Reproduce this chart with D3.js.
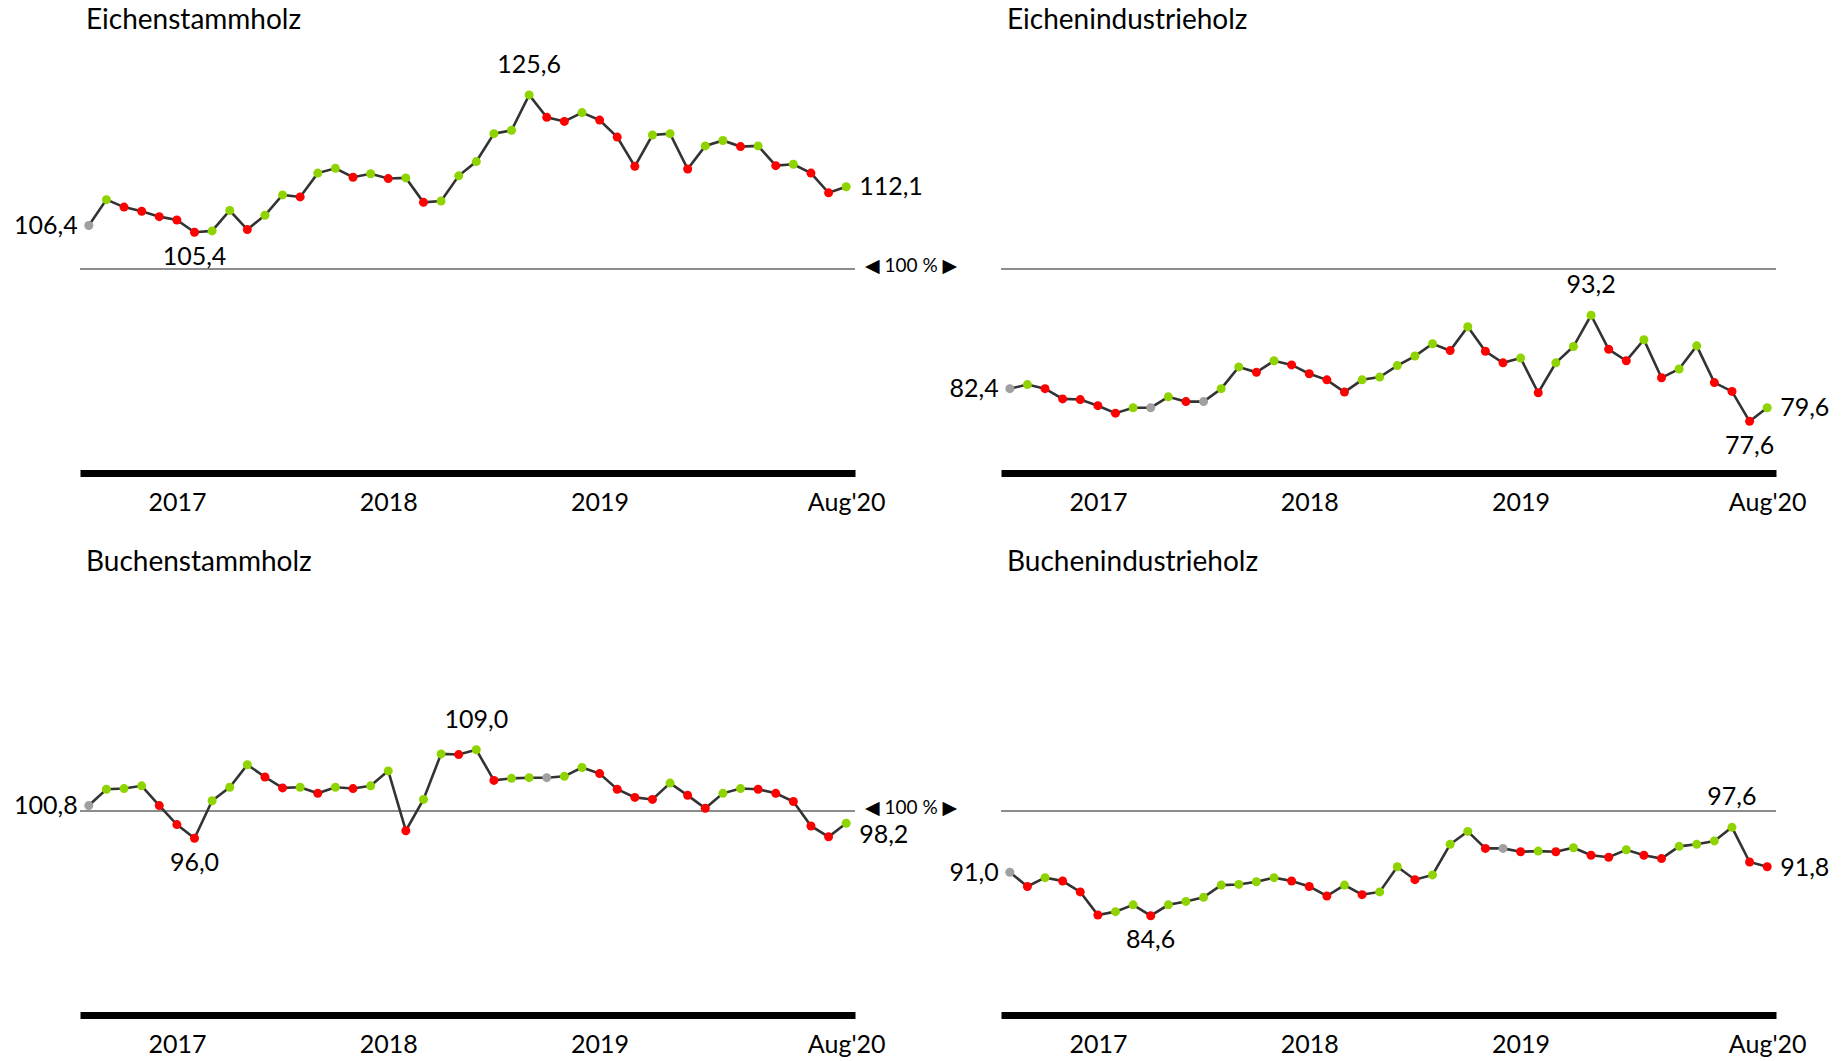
<!DOCTYPE html>
<html>
<head>
    <meta charset="utf-8">
    <script src="https://cdn.jsdelivr.net/npm/d3@7"></script>
    <style>
        body {
            margin: 0;
            background: white;
            font-family: Lato, "Open Sans", sans-serif;
        }

        .title {
            font-size: 28px;
            fill: black;
        }

        .value, .axis text {
            font-size: 25px;
            fill: black;
        }

        .axis path.domain {
            stroke: black;
            stroke-width: 7px;
        }

        .ref {
            stroke: #8c8c8c;
            stroke-width: 2px;
        }

        .refLabel {
            font-size: 19px;
            font-family: Lato, "DejaVu Sans", sans-serif;
        }

        .series {
            fill: none;
            stroke: #333333;
            stroke-width: 2.6px;
        }
    </style>
</head>

<body>
    <svg id="Chart" width="1842" height="1061"></svg>
</body>
<script>
    // months Jan 2017 .. Aug 2020
    let months = [
        "2017-01", "2017-02", "2017-03", "2017-04", "2017-05", "2017-06", "2017-07", "2017-08", "2017-09", "2017-10", "2017-11", "2017-12",
        "2018-01", "2018-02", "2018-03", "2018-04", "2018-05", "2018-06", "2018-07", "2018-08", "2018-09", "2018-10", "2018-11", "2018-12",
        "2019-01", "2019-02", "2019-03", "2019-04", "2019-05", "2019-06", "2019-07", "2019-08", "2019-09", "2019-10", "2019-11", "2019-12",
        "2020-01", "2020-02", "2020-03", "2020-04", "2020-05", "2020-06", "2020-07", "2020-08"
    ]
    let tickMonths = ["2017-06", "2018-06", "2019-06", "2020-08"]
    let tickLabels = ["2017", "2018", "2019", "Aug'20"]

    let eichenstammholz = [
        106.4, 110.2, 109.1, 108.5, 107.7, 107.2, 105.4, 105.6, 108.6, 105.8,
        107.9, 110.9, 110.6, 114.1, 114.8, 113.5, 114.0, 113.3, 113.4, 109.8,
        110.0, 113.7, 115.8, 119.9, 120.4, 125.6, 122.3, 121.7, 123.0, 121.9,
        119.4, 115.1, 119.7, 119.9, 114.7, 118.1, 118.9, 118.0, 118.1, 115.2,
        115.4, 114.1, 111.2, 112.1
    ]
    let eichenindustrieholz = [
        82.4, 83.0, 82.4, 80.9, 80.8, 79.9, 78.8, 79.6, 79.6, 81.2,
        80.5, 80.5, 82.4, 85.6, 84.8, 86.5, 85.9, 84.6, 83.7, 81.9,
        83.7, 84.1, 85.8, 87.2, 89.0, 88.0, 91.5, 87.9, 86.2, 86.9,
        81.8, 86.2, 88.6, 93.2, 88.2, 86.5, 89.6, 84.0, 85.3, 88.7,
        83.3, 82.0, 77.6, 79.6
    ]
    let buchenstammholz = [
        100.8, 103.2, 103.3, 103.7, 100.8, 98.0, 96.0, 101.5, 103.5, 106.8,
        105.0, 103.4, 103.5, 102.6, 103.5, 103.3, 103.7, 105.9, 97.1, 101.7,
        108.4, 108.3, 109.0, 104.5, 104.8, 104.9, 104.9, 105.1, 106.4, 105.5,
        103.2, 102.0, 101.7, 104.1, 102.3, 100.4, 102.6, 103.3, 103.2, 102.6,
        101.4, 97.8, 96.2, 98.2
    ]
    let buchenindustrieholz = [
        91.0, 88.9, 90.2, 89.7, 88.1, 84.7, 85.2, 86.2, 84.6, 86.2,
        86.7, 87.3, 89.1, 89.2, 89.6, 90.2, 89.7, 88.9, 87.5, 89.1,
        87.7, 88.1, 91.8, 89.9, 90.6, 95.1, 97.0, 94.5, 94.5, 94.0,
        94.1, 94.0, 94.6, 93.5, 93.2, 94.3, 93.5, 93.0, 94.8, 95.1,
        95.6, 97.6, 92.5, 91.8
    ]

    let titles = ["Eichenstammholz", "Eichenindustrieholz", "Buchenstammholz", "Buchenindustrieholz"]
    let series = [eichenstammholz, eichenindustrieholz, buchenstammholz, buchenindustrieholz]
    let reference = 100
    let yDomain = [70, 130]

    let colors = { up: "#8fd400", down: "#ff0000", same: "#a0a0a0" }
    let fmt = d3.formatLocale({ decimal: ",", thousands: ".", grouping: [3], currency: ["", "€"] }).format(".1f")

    function getConfig(i) {
        let left = [80, 1001][i % 2]
        let base = [473, 1015][Math.floor(i / 2)]
        let width = 775
        let height = 408
        return { left, base, width, height, showRefLabel: i % 2 == 0 }
    }

    function getScales(config) {
        let xScale = d3.scalePoint()
            .domain(months)
            .range([config.left, config.left + config.width])
            .padding(0.5)
        let yScale = d3.scaleLinear()
            .domain(yDomain)
            .range([config.base, config.base - config.height])
        return { xScale, yScale }
    }

    function pointColor(values, i) {
        if (i == 0) return colors.same
        if (values[i] > values[i - 1]) return colors.up
        if (values[i] < values[i - 1]) return colors.down
        return colors.same
    }

    function drawPanel(container, title, values, config) {
        let { xScale, yScale } = getScales(config)
        let g = container.append("g")

        g.append("text")
            .attr("class", "title")
            .attr("x", config.left + 6)
            .attr("y", config.base - 454)
            .attr("dy", "0.35em")
            .text(title)

        // 100 % line
        g.append("line")
            .attr("class", "ref")
            .attr("x1", config.left)
            .attr("x2", config.left + config.width)
            .attr("y1", yScale(reference))
            .attr("y2", yScale(reference))

        if (config.showRefLabel) {
            g.append("text")
                .attr("class", "refLabel")
                .attr("x", config.left + config.width + 10)
                .attr("y", yScale(reference) - 4)
                .attr("dy", "0.35em")
                .text("\u25C0 100 % \u25B6")
        }

        let axis = d3.axisBottom(xScale)
            .tickValues(tickMonths)
            .tickFormat((d, i) => tickLabels[i])
            .tickSize(0)
            .tickPadding(20)
        g.append("g")
            .attr("class", "axis")
            .attr("transform", `translate(0,${config.base})`)
            .call(axis)
            .call(a => a.selectAll("text").attr("font-family", "Lato, sans-serif"))

        let line = d3.line()
            .x((d, i) => xScale(months[i]))
            .y(d => yScale(d))
        g.append("path")
            .datum(values)
            .attr("class", "series")
            .attr("d", line)

        g.selectAll(".dot")
            .data(values)
            .enter().append("circle")
            .attr("class", "dot")
            .attr("cx", (d, i) => xScale(months[i]))
            .attr("cy", d => yScale(d))
            .attr("r", 4.5)
            .attr("fill", (d, i) => pointColor(values, i))

        // value labels: first, last, max, min
        let last = values.length - 1
        let iMax = d3.maxIndex(values)
        let iMin = d3.minIndex(values)
        // push the end label below the "100 %" marker when they would meet
        let endNearRef = config.showRefLabel && Math.abs(yScale(values[last]) - yScale(reference)) < 20
        let labels = [
            { i: 0, dx: -11, dy: 0, anchor: "end" },
            { i: last, dx: 13, dy: endNearRef ? 11 : 0, anchor: "start" },
            { i: iMax, dx: 0, dy: -31, anchor: "middle" },
            { i: iMin, dx: 0, dy: 24, anchor: "middle" }
        ]
        g.selectAll(".value")
            .data(labels)
            .enter().append("text")
            .attr("class", "value")
            .attr("x", d => xScale(months[d.i]) + d.dx)
            .attr("y", d => yScale(values[d.i]) + d.dy)
            .attr("dy", "0.35em")
            .attr("text-anchor", d => d.anchor)
            .text(d => fmt(values[d.i]))
    }

    let svg = d3.select("#Chart")
    titles.forEach((t, i) => drawPanel(svg, t, series[i], getConfig(i)))
</script>
</html>
